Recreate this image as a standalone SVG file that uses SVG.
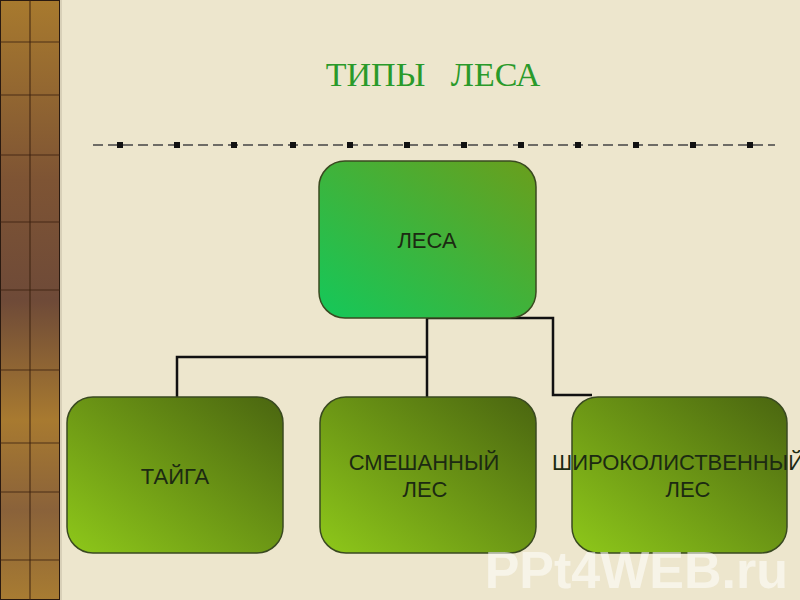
<svg xmlns="http://www.w3.org/2000/svg" width="800" height="600" viewBox="0 0 800 600">
<style>
.node rect{stroke:#3a4a20;stroke-width:1.5}
.lbl{font-family:"Liberation Sans",Arial,sans-serif;font-size:22px;fill:#1c2a12;text-anchor:middle}
.conn{fill:none;stroke:#111;stroke-width:2.5}
.grid{stroke:#3a2010;stroke-width:1.2;opacity:.8}
</style>
<defs>
<linearGradient id="gTop" x1="0" y1="1" x2="1" y2="0">
<stop offset="0" stop-color="#14c85a"/>
<stop offset="1" stop-color="#6a9e1c"/>
</linearGradient>
<linearGradient id="gBot" x1="0" y1="1" x2="1" y2="0">
<stop offset="0" stop-color="#8ec81a"/>
<stop offset="1" stop-color="#4a6510"/>
</linearGradient>
<linearGradient id="strip" x1="0" y1="0" x2="0" y2="1">
<stop offset="0" stop-color="#a87a2e"/>
<stop offset="0.3" stop-color="#7e5434"/>
<stop offset="0.5" stop-color="#6e4a38"/>
<stop offset="0.7" stop-color="#a87a30"/>
<stop offset="0.85" stop-color="#8a623a"/>
<stop offset="1" stop-color="#a87c32"/>
</linearGradient>
</defs>
<rect width="800" height="600" fill="#ede6cd"/>
<g id="strip-deco">
<rect x="0" y="0" width="60" height="600" fill="url(#strip)"/>
<rect x="0" y="0" width="60" height="600" fill="none" stroke="#2a1a10" stroke-width="2"/>
<line class="grid" x1="30" y1="0" x2="30" y2="600"/>
<line class="grid" x1="0" y1="42" x2="60" y2="42"/>
<line class="grid" x1="0" y1="95" x2="60" y2="95"/>
<line class="grid" x1="0" y1="155" x2="60" y2="155"/>
<line class="grid" x1="0" y1="222" x2="60" y2="222"/>
<line class="grid" x1="0" y1="290" x2="60" y2="290"/>
<line class="grid" x1="0" y1="370" x2="60" y2="370"/>
<line class="grid" x1="0" y1="443" x2="60" y2="443"/>
<line class="grid" x1="0" y1="492" x2="60" y2="492"/>
<line class="grid" x1="0" y1="560" x2="60" y2="560"/>
<line x1="61" y1="0" x2="61" y2="600" stroke="#d8d0b8" stroke-width="2"/>
</g>
<text x="433" y="86" font-family="'Liberation Serif','Times New Roman',serif" font-size="34" fill="#2a9a2a" text-anchor="middle" xml:space="preserve">ТИПЫ   ЛЕСА</text>
<g id="divider">
<line x1="93" y1="145" x2="775" y2="145" stroke="#444" stroke-width="1.5" stroke-dasharray="10 5"/>
<g fill="#111">
<rect x="117" y="142" width="6" height="6"/>
<rect x="174" y="142" width="6" height="6"/>
<rect x="231" y="142" width="6" height="6"/>
<rect x="290" y="142" width="6" height="6"/>
<rect x="347" y="142" width="6" height="6"/>
<rect x="404" y="142" width="6" height="6"/>
<rect x="461" y="142" width="6" height="6"/>
<rect x="518" y="142" width="6" height="6"/>
<rect x="575" y="142" width="6" height="6"/>
<rect x="633" y="142" width="6" height="6"/>
<rect x="690" y="142" width="6" height="6"/>
<rect x="747" y="142" width="6" height="6"/>
</g>
</g>
<g id="connectors">
<path class="conn" d="M427 318 V397"/>
<path class="conn" d="M427 357 H177 V397"/>
<path class="conn" d="M427 318 H553 V395 H592"/>
</g>
<g id="node-lesa" class="node">
<rect x="319" y="161" width="217" height="157" rx="26" fill="url(#gTop)"/>
<text class="lbl" x="427" y="248">ЛЕСА</text>
</g>
<g id="node-taiga" class="node">
<rect x="67" y="397" width="216" height="156" rx="26" fill="url(#gBot)"/>
<text class="lbl" x="175" y="484">ТАЙГА</text>
</g>
<g id="node-mixed" class="node">
<rect x="320" y="397" width="216" height="156" rx="26" fill="url(#gBot)"/>
<text class="lbl" x="424" y="470">СМЕШАННЫЙ</text>
<text class="lbl" x="425" y="497">ЛЕС</text>
</g>
<g id="node-broadleaf" class="node">
<rect x="572" y="397" width="215" height="156" rx="26" fill="url(#gBot)"/>
<text class="lbl" x="678" y="470">ШИРОКОЛИСТВЕННЫЙ</text>
<text class="lbl" x="688" y="497">ЛЕС</text>
</g>
<text x="788" y="588" font-family="'Liberation Sans',Arial,sans-serif" font-weight="bold" font-size="52" fill="#ffffff" fill-opacity="0.55" text-anchor="end">PPt4WEB.ru</text>
</svg>
